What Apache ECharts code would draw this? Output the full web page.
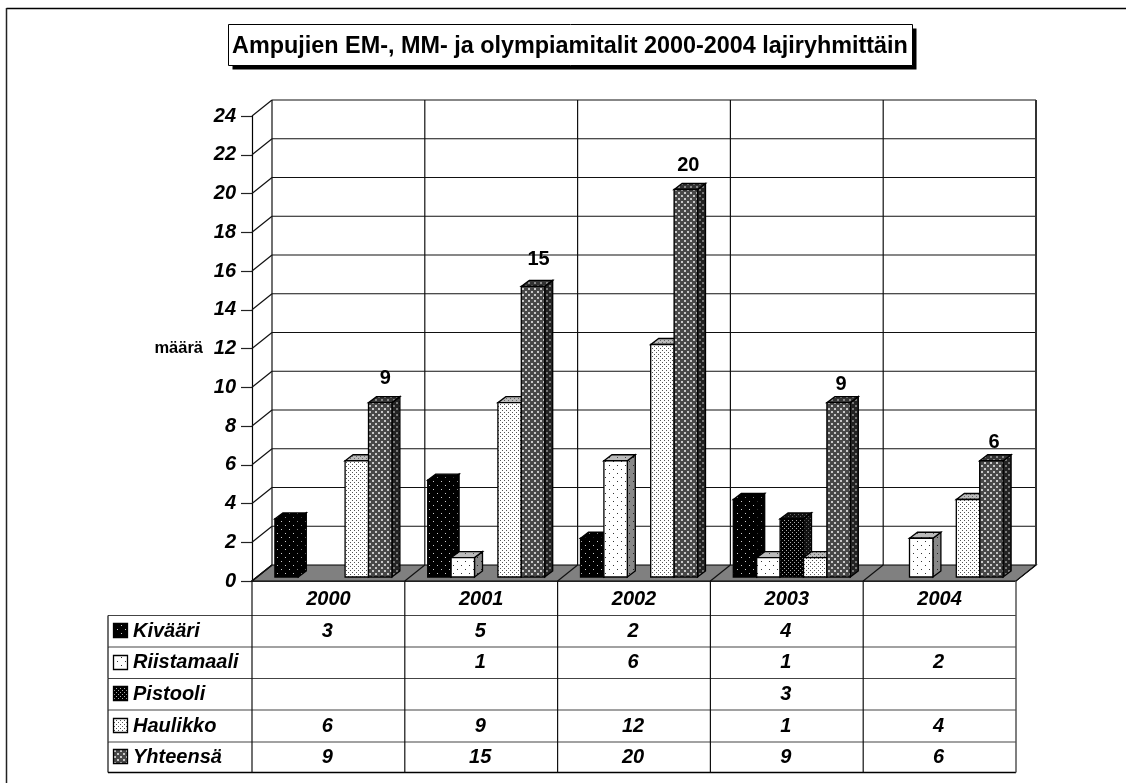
<!DOCTYPE html>
<html><head><meta charset="utf-8">
<style>html,body{margin:0;padding:0;background:#fff}#c{width:1126px;height:783px}</style>
<script src="https://cdn.jsdelivr.net/npm/echarts@6/dist/echarts.min.js"></script>
</head><body><div id="c"></div>
<script>
const titleText = 'Ampujien EM-, MM- ja olympiamitalit 2000-2004 lajiryhmittäin';
const categories = ['2000', '2001', '2002', '2003', '2004'];
const seriesNames = ['Kivääri', 'Riistamaali', 'Pistooli', 'Haulikko', 'Yhteensä'];
const kivaari = [3, 5, 2, 4, null];
const riistamaali = [null, 1, 6, 1, 2];
const pistooli = [null, null, null, 3, null];
const haulikko = [6, 9, 12, 1, 4];
const yhteensa = [9, 15, 20, 9, 6];
const gridValues = [0, 2, 4, 6, 8, 10, 12, 14, 16, 18, 20, 22, 24];
const allValues = [kivaari, riistamaali, pistooli, haulikko, yhteensa];

function pat(bg, fg, w, h, dots) {
  const c = document.createElement('canvas'); c.width = w; c.height = h;
  const g = c.getContext('2d'); g.fillStyle = bg; g.fillRect(0, 0, w, h);
  g.fillStyle = fg; dots.forEach(d => g.fillRect(d[0], d[1], d[2] || 1, d[3] || 1));
  return { image: c, repeat: 'repeat' };
}
const sparse = [[1, 1], [5, 5]];
const dense = [[0, 0], [2, 2]];
const mesh = [[0, 0, 2, 2], [3, 3, 2, 2]];
const looks = [
  { front: pat('#000', '#ccc', 8, 8, sparse), top: pat('#000', '#888', 8, 8, sparse), side: pat('#000', '#888', 8, 8, sparse) },
  { front: pat('#fff', '#333', 8, 8, sparse), top: pat('#bbb', '#444', 8, 8, sparse), side: pat('#888', '#222', 8, 8, sparse) },
  { front: pat('#000', '#aaa', 4, 4, dense), top: pat('#111', '#666', 4, 4, dense), side: pat('#111', '#666', 4, 4, dense) },
  { front: pat('#fff', '#555', 4, 4, dense), top: pat('#bbb', '#666', 4, 4, dense), side: pat('#999', '#333', 4, 4, dense) },
  { front: pat('#484848', '#c8c8c8', 6, 6, mesh), top: pat('#333', '#888', 6, 6, mesh), side: pat('#222', '#777', 6, 6, mesh) }
];

const FONT = '"Liberation Sans", Arial, sans-serif';
const wallDx = 20, wallDy = -16;
const barDx0 = 5, barDy0 = -4, barDx = 8, barDy = -6;
const slots = 5, slotFrac = 23.4 / 152.8;
const tableRows = [615.5, 647, 678.5, 710, 742, 772.5];
const tableLeft = 108;
const ink = '#111';
const labelLift = [24.6, 27, 24.5, 18.6, 17.8];
const labelShift = [5, 5.5, 2.5, 2.5, 2.6];

function line(x1, y1, x2, y2, w, col) {
  return { type: 'line', shape: { x1, y1, x2, y2 }, style: { stroke: col || ink, lineWidth: w || 1, fill: null } };
}
function poly(points, fill, stroke, w) {
  return { type: 'polygon', shape: { points }, style: { fill, stroke: stroke || '#000', lineWidth: w == null ? 1.3 : w } };
}
function text(x, y, t, font, align) {
  return { type: 'text', style: { text: t, x, y, font, align: align || 'center', verticalAlign: 'middle', fill: '#000' } };
}

function renderWallLine(params, api) {
  const p = api.coord([0, api.value(0)]);
  const bw = api.size([1, 0])[0];
  const x0 = p[0] - bw / 2, x1 = x0 + bw * categories.length, y = p[1];
  const isBase = api.value(0) === 0;
  const kids = [];
  if (isBase) {
    kids.push(poly([[x0, y], [x1, y], [x1 + wallDx, y + wallDy], [x0 + wallDx, y + wallDy]], '#808080', '#000', 1.2));
  } else {
    kids.push(line(x0 + wallDx, y + wallDy, x1 + wallDx, y + wallDy, 1.2));
  }
  kids.push(line(x0, y, x0 + wallDx, y + wallDy, 1.2));
  return { type: 'group', children: kids };
}
function renderWallColumn(params, api) {
  const i = api.value(0);
  const b = api.coord([i, 0]), t = api.coord([i, 24]);
  const bw = api.size([1, 0])[0];
  const x = b[0] - bw / 2;
  const kids = [
    line(x + wallDx, b[1] + wallDy, x + wallDx, t[1] + wallDy, 1.2),
    line(x, b[1], x + wallDx, b[1] + wallDy, 1.2)
  ];
  if (i === categories.length - 1) {
    kids.push(line(x + bw + wallDx, b[1] + wallDy, x + bw + wallDx, t[1] + wallDy, 2, '#333'));
    kids.push(line(x + bw, b[1], x + bw + wallDx, b[1] + wallDy, 1));
  }
  return { type: 'group', children: kids };
}
function makeBarRender(s) {
  return function (params, api) {
    const i = api.value(0), v = api.value(1);
    if (v == null || isNaN(v)) return null;
    const bw = api.size([1, 0])[0];
    const w = bw * slotFrac;
    const c0 = api.coord([i, 0]), cv = api.coord([i, v]);
    const x0 = c0[0] - w * slots / 2 + w * s + barDx0;
    const x1 = x0 + w;
    const yb = c0[1] + barDy0, yt = cv[1] + barDy0;
    const look = looks[s];
    const kids = [
      poly([[x1, yb], [x1 + barDx, yb + barDy], [x1 + barDx, yt + barDy], [x1, yt]], look.side),
      poly([[x0, yt], [x1, yt], [x1 + barDx, yt + barDy], [x0 + barDx, yt + barDy]], look.top),
      poly([[x0, yb], [x1, yb], [x1, yt], [x0, yt]], look.front)
    ];
    if (s === seriesNames.length - 1) {
      kids.push(text(x0 + w / 2 + labelShift[i], yt - labelLift[i], String(v), 'bold 20px ' + FONT));
    }
    return { type: 'group', children: kids };
  };
}
function renderTableColumn(params, api) {
  const i = api.value(0);
  const c = api.coord([i, 0]);
  const bw = api.size([1, 0])[0];
  const x = c[0] - bw / 2;
  const bot = tableRows[tableRows.length - 1];
  const kids = [line(x, c[1], x, bot, 1.2)];
  if (i === categories.length - 1) kids.push(line(x + bw, c[1], x + bw, bot, 1.5, '#555'));
  allValues.forEach((arr, r) => {
    if (arr[i] != null) kids.push(text(c[0] - 1, (tableRows[r] + tableRows[r + 1]) / 2, String(arr[i]), 'italic bold 20px ' + FONT));
  });
  return { type: 'group', children: kids };
}
function renderTableRow(params, api) {
  const r = api.value(0);
  const o = api.coord([0, 0]);
  const bw = api.size([1, 0])[0];
  const x1 = o[0] - bw / 2 + bw * categories.length;
  const y0 = tableRows[r], y1 = tableRows[r + 1];
  const cy = (y0 + y1) / 2;
  const kids = [
    line(tableLeft, y0, x1, y0, 1.2, '#444'),
    line(tableLeft, y0, tableLeft, y1, 1.2),
    { type: 'rect', shape: { x: 113.5, y: Math.round(cy) - 7.5, width: 14, height: 14 }, style: { fill: looks[r].front, stroke: '#000', lineWidth: 1.3 } },
    text(133, cy, seriesNames[r], 'italic bold 20px ' + FONT, 'left')
  ];
  if (r === seriesNames.length - 1) kids.push(line(tableLeft, y1, x1, y1, 1.5, '#000'));
  return { type: 'group', children: kids };
}

const series = [
  { name: 'walls', type: 'custom', coordinateSystem: 'cartesian2d', renderItem: renderWallLine, z: 1,
    data: gridValues.map(v => [v]), encode: { y: 0 }, silent: true, clip: false },
  { name: 'wallColumns', type: 'custom', coordinateSystem: 'cartesian2d', renderItem: renderWallColumn, z: 2,
    data: categories.map((c, i) => [i]), encode: { x: 0 }, silent: true, clip: false },
  { name: 'tableRows', type: 'custom', coordinateSystem: 'cartesian2d', renderItem: renderTableRow, z: 3,
    data: seriesNames.map((n, i) => [i]), encode: { x: 0 }, silent: true, clip: false },
  { name: 'tableColumns', type: 'custom', coordinateSystem: 'cartesian2d', renderItem: renderTableColumn, z: 4,
    data: categories.map((c, i) => [i]), encode: { x: 0 }, silent: true, clip: false }
];
allValues.forEach((vals, s) => {
  series.push({ name: seriesNames[s], type: 'custom', coordinateSystem: 'cartesian2d', z: 5 + s,
    renderItem: makeBarRender(s), encode: { x: 0, y: 1 }, clip: false,
    data: vals.map((v, i) => [i, v]) });
});

const chart = echarts.init(document.getElementById('c'), null, { renderer: 'canvas' });
chart.setOption({
  animation: false,
  backgroundColor: '#fff',
  title: {
    text: titleText, left: 232, top: 34.5,
    padding: 0,
    textStyle: { fontFamily: FONT, fontWeight: 'bold', fontSize: 23.4, color: '#000', lineHeight: 24 }
  },
  grid: { left: 252, top: 116, width: 764, height: 465, containLabel: false },
  xAxis: {
    type: 'category', data: categories,
    axisLine: { show: true, lineStyle: { color: '#000', width: 1.5 } },
    axisTick: { show: false },
    axisLabel: { margin: 8, fontFamily: FONT, fontWeight: 'bold', fontStyle: 'italic', fontSize: 20, color: '#000' },
    splitLine: { show: false }
  },
  yAxis: {
    type: 'value', min: 0, max: 24, interval: 2,
    name: 'määrä', nameLocation: 'middle', nameRotate: 0, nameGap: 49, nameMoveOverlap: false,
    nameTextStyle: { fontFamily: FONT, fontWeight: 'bold', fontSize: 16.5, color: '#000' },
    axisLine: { show: true, onZero: false, lineStyle: { color: '#000', width: 1.2 } },
    axisTick: { show: true, length: 11, lineStyle: { color: '#222', width: 1.2 } },
    axisLabel: { margin: 16, fontFamily: FONT, fontWeight: 'bold', fontStyle: 'italic', fontSize: 20, color: '#000' },
    splitLine: { show: false }
  },
  series: series,
  graphic: [
    { type: 'line', shape: { x1: 6.5, y1: 8.5, x2: 1126, y2: 8.5 }, style: { stroke: '#000', lineWidth: 1.5 } },
    { type: 'line', shape: { x1: 6.5, y1: 8, x2: 6.5, y2: 783 }, style: { stroke: '#222', lineWidth: 1.5 } },
    { type: 'rect', shape: { x: 232.5, y: 28.5, width: 684, height: 41 }, style: { fill: '#000' } },
    { type: 'rect', shape: { x: 228.5, y: 24.5, width: 684, height: 41 }, style: { fill: '#fff', stroke: '#000', lineWidth: 1 } }
  ]
});
</script></body></html>
